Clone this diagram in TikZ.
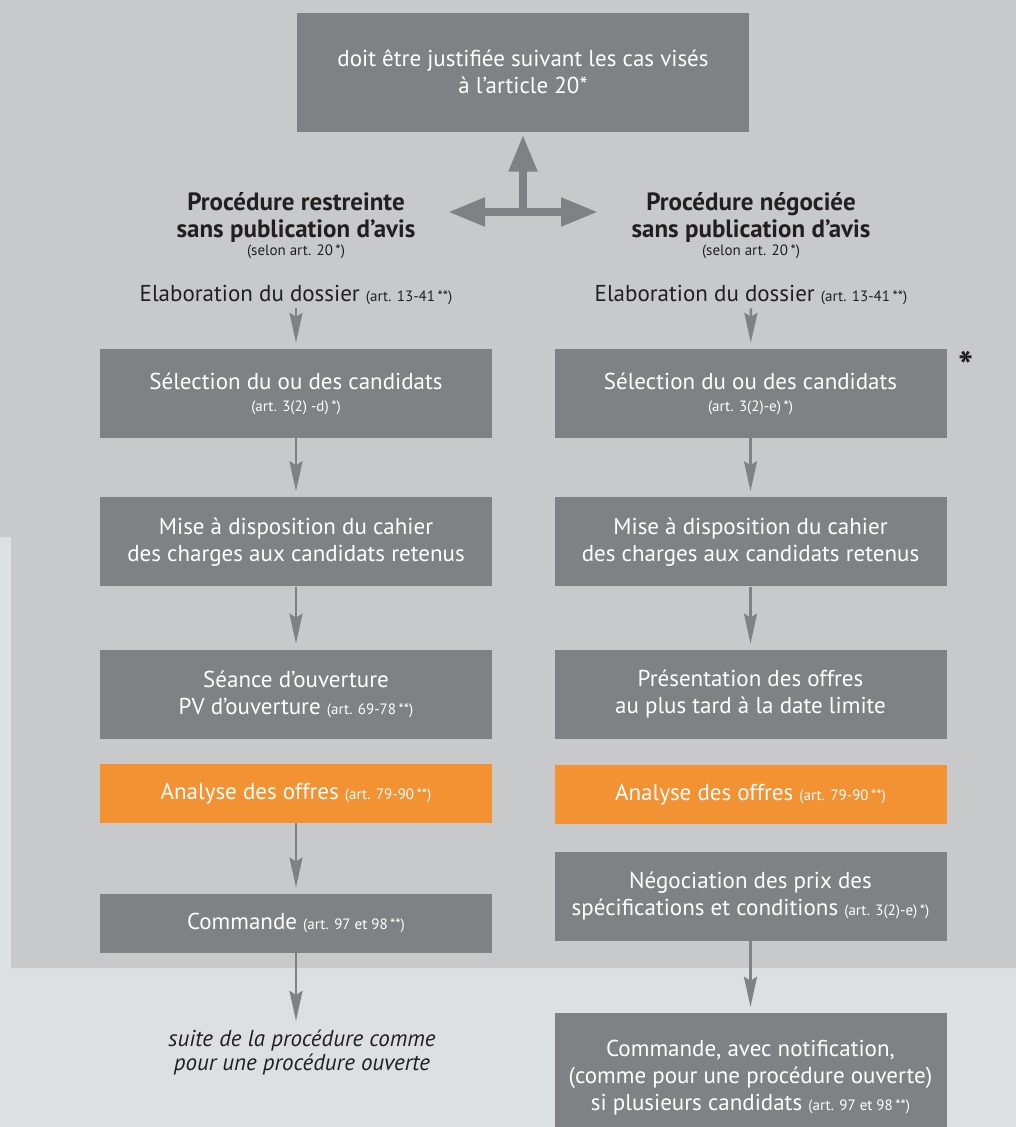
\documentclass[tikz,border=0pt]{standalone}
\usepackage{fontspec}
\setmainfont{PT Sans}
\usetikzlibrary{positioning,arrows.meta}

\definecolor{fondclair}{HTML}{DDE0E3}
\definecolor{fondfonce}{HTML}{C8C9CB}
\definecolor{gris}{HTML}{808184}
\definecolor{orangeanalyse}{HTML}{F39232}
\definecolor{encre}{HTML}{231F20}

\newcommand{\renvoi}[1]{{\mdseries\fontsize{15}{27}\selectfont #1}}

\tikzset{
  boite/.style={fill=gris, text=white, minimum width=392pt, minimum height=89pt,
    inner sep=0pt, align=center, font=\fontsize{23}{27}\selectfont},
  boiteanalyse/.style={boite, fill=orangeanalyse, minimum height=59pt},
  titre/.style={text=encre, align=center, font=\bfseries\fontsize{25}{27}\selectfont},
  etape/.style={text=encre, align=center, font=\fontsize{23}{27}\selectfont},
  fleche/.style={draw=gris, line width=2.5pt, -{Stealth[length=30pt,width=13pt,inset=4pt]}, shorten >=6pt},
  grossefleche/.style={draw=gris, line width=8pt},
  gros/.tip={Triangle[length=37pt,width=27pt]},
}

\begin{document}
\begin{tikzpicture}[x=1pt,y=-1pt]
  \clip (0,0) rectangle (1016,1127);
  % fonds
  \fill[fondclair] (0,0) rectangle (1016,1127);
  \fill[fondfonce] (0,0) -- (1016,0) -- (1016,968) -- (11,968) -- (11,537) -- (0,537) -- cycle;

  % haut
  \node[boite, minimum width=452pt, minimum height=119pt] (justif) at (523,72)
    {doit être justifiée suivant les cas visés\\à l’article 20*};
  \coordinate (pivot) at (523,212);
  \coordinate (versG) at (448,212);
  \coordinate (versD) at (598,212);
  \draw[grossefleche, -gros, shorten >=3pt] (pivot) -- (justif.south);
  \draw[grossefleche, gros-gros] (versG) -- (versD);

  \node[titre] (titreG) at (296,226)
    {Procédure restreinte\\sans publication d'avis\\[-9pt]\renvoi{(selon art. 20\,*)}};
  \node[titre] (titreD) at (751,226)
    {Procédure négociée\\sans publication d’avis\\[-9pt]\renvoi{(selon art. 20\,*)}};

  % colonne gauche
  \node[etape] (elabG) at (296,295) {Elaboration du dossier \renvoi{(art. 13-41\,**)}};
  \node[boite] (selG) at (296,393.5)
    {Sélection du ou des candidats\\[-5pt]\renvoi{(art. 3(2) -d)\,*)}};
  \node[boite, below=59pt of selG] (miseG)
    {Mise à disposition du cahier\\des charges aux candidats retenus};
  \node[boite, below=63pt of miseG] (seanceG)
    {Séance d'ouverture\\PV d'ouverture \renvoi{(art. 69-78\,**)}};
  \node[boiteanalyse, below=25pt of seanceG] (analyseG)
    {Analyse des offres \renvoi{(art. 79-90\,**)}};
  \node[boite, minimum height=59pt, below=70pt of analyseG] (commandeG)
    {Commande \renvoi{(art. 97 et 98\,**)}};
  \node[etape, font=\itshape\fontsize{23}{24}\selectfont] (suiteG) at (302,1053)
    {suite de la procédure comme\\pour une procédure ouverte};

  % colonne droite
  \node[etape] (elabD) at (751,295) {Elaboration du dossier \renvoi{(art. 13-41\,**)}};
  \node[boite] (selD) at (750.5,393.5)
    {Sélection du ou des candidats\\[-5pt]\renvoi{(art. 3(2)-e)\,*)}};
  \node[boite, below=59pt of selD] (miseD)
    {Mise à disposition du cahier\\des charges aux candidats retenus};
  \node[boite, below=63pt of miseD] (presD)
    {Présentation des offres\\au plus tard à la date limite};
  \node[boiteanalyse, below=26pt of presD] (analyseD)
    {Analyse des offres \renvoi{(art. 79-90\,**)}};
  \node[boite, below=27pt of analyseD] (negoD)
    {Négociation des prix des\\spécifications et conditions \renvoi{(art. 3(2)-e)\,*)}};
  \node[boite, minimum height=130pt, below=72pt of negoD] (commandeD)
    {Commande, avec notification,\\(comme pour une procédure ouverte)\\si plusieurs candidats \renvoi{(art. 97 et 98\,**)}};
  \node[text=encre, font=\bfseries\fontsize{40}{40}\selectfont] (etoile) at (966,366) {*};

  % fleches
  \draw[fleche] (elabG) -- (selG);
  \draw[fleche] (selG) -- (miseG);
  \draw[fleche] (miseG) -- (seanceG);
  \draw[fleche] (analyseG) -- (commandeG);
  \draw[fleche] (commandeG) -- (commandeG |- suiteG.north);
  \draw[fleche] (elabD) -- (selD);
  \draw[fleche] (selD) -- (miseD);
  \draw[fleche] (miseD) -- (presD);
  \draw[fleche] (negoD) -- (commandeD);
\end{tikzpicture}
\end{document}
